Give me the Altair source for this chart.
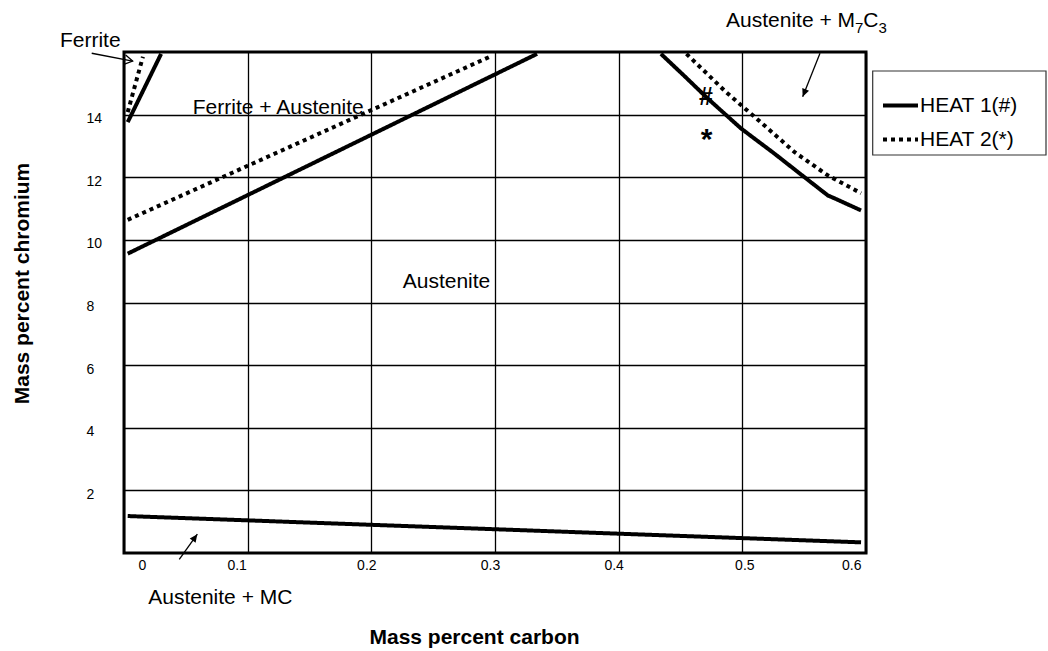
import altair as alt
import pandas as pd

FONT = "Liberation Sans"

# ---------------- data ----------------
series_names = ["HEAT 1(#)", "HEAT 2(*)"]

# HEAT 1 (solid)
h1_ferrite_x = [0.003, 0.030]
h1_ferrite_y = [13.76, 15.94]
h1_fa_x = [0.003, 0.334]
h1_fa_y = [9.56, 15.94]
h1_m7c3_x = [0.4342, 0.4535, 0.4724, 0.4992, 0.5261, 0.5503, 0.5691, 0.5772, 0.5960]
h1_m7c3_y = [15.94, 15.22, 14.50, 13.55, 12.75, 12.00, 11.42, 11.28, 10.94]
h1_mc_x = [0.003, 0.200, 0.596]
h1_mc_y = [1.18, 0.90, 0.34]

# HEAT 2 (dotted)
h2_ferrite_x = [0.003, 0.0153]
h2_ferrite_y = [14.08, 15.85]
h2_fa_x = [0.003, 0.2976]
h2_fa_y = [10.64, 15.88]
h2_m7c3_x = [0.4548, 0.4871, 0.5194, 0.5423, 0.5691, 0.5960]
h2_m7c3_y = [15.94, 14.71, 13.60, 12.80, 12.06, 11.49]

x_tick_values = [0, 0.1, 0.2, 0.3, 0.4, 0.5, 0.6]
y_tick_values = [2, 4, 6, 8, 10, 12, 14]

# region labels (the M7C3 label is split so that 7 and 3 are subscripts)
label_text = ["Ferrite", "Ferrite + Austenite", "Austenite", "Austenite + MC",
              "Austenite + M", "7", "C", "3"]
label_x = [-0.0518, 0.0556, 0.2254, 0.0196, 0.4868, 0.5911, 0.5978, 0.6101]
label_y = [16.16, 14.02, 8.46, -1.63, 16.80, 16.61, 16.80, 16.61]
label_size = [21, 21, 21, 21, 21, 15, 21, 15]

# heat markers
marker_text = ["#", "*"]
marker_x = [0.4706, 0.4712]
marker_y = [14.31, 12.90]
marker_size = [25, 30]

# arrows (tail -> head)
arrow_x1 = [-0.0261, 0.5628, 0.0447]
arrow_y1 = [15.96, 15.96, -0.20]
arrow_x2 = [0.0070, 0.5488, 0.0593]
arrow_y2 = [15.71, 14.57, 0.60]
arrow_angle = [10.6, 111.7, 305.8]
arrow_open = [True, False, False]

# ---------------- tables ----------------
rows = []
def add(series, seg, xs, ys):
    for i, (xv, yv) in enumerate(zip(xs, ys)):
        rows.append({"series": series, "seg": seg, "x": xv, "y": yv, "i": i})

add(series_names[0], "h1a", h1_ferrite_x, h1_ferrite_y)
add(series_names[0], "h1b", h1_fa_x, h1_fa_y)
add(series_names[0], "h1c", h1_m7c3_x, h1_m7c3_y)
add(series_names[0], "h1d", h1_mc_x, h1_mc_y)
add(series_names[1], "h2a", h2_ferrite_x, h2_ferrite_y)
add(series_names[1], "h2b", h2_fa_x, h2_fa_y)
add(series_names[1], "h2c", h2_m7c3_x, h2_m7c3_y)
lines_df = pd.DataFrame(rows)

labels_df = pd.DataFrame({"x": label_x, "y": label_y, "t": label_text, "s": label_size})
markers_df = pd.DataFrame({"x": marker_x, "y": marker_y, "t": marker_text, "s": marker_size})
arrows_df = pd.DataFrame({"x": arrow_x1, "y": arrow_y1, "x2": arrow_x2, "y2": arrow_y2,
                          "angle": arrow_angle, "open": arrow_open})

# ---------------- scales / axes ----------------
x_scale = alt.Scale(domain=[0, 0.6], nice=False, zero=False)
y_scale = alt.Scale(domain=[0, 16], nice=False, zero=False)

x_axis = alt.Axis(
    values=x_tick_values, format=".1~f", grid=True, gridColor="black", gridWidth=1.3, gridOpacity=1,
    domain=False, ticks=False, labelFont=FONT, labelFontSize=14, labelColor="black", labelPadding=5,
    labelFlush=True,
    labelOffset={"condition": [
        {"test": "datum.value < 0.05", "value": 14},
        {"test": "datum.value > 0.05 && datum.value < 0.15", "value": -11},
        {"test": "datum.value > 0.45 && datum.value < 0.55", "value": 2},
    ], "value": -5},
    titleFont=FONT, titleFontSize=21, titleFontWeight="bold", titleColor="black",
    titleX=350, titleY=90, titleBaseline="alphabetic",
)
y_axis = alt.Axis(
    values=y_tick_values, grid=True, gridColor="black", gridWidth=1.3, gridOpacity=1,
    domain=False, ticks=False, labelFont=FONT, labelFontSize=14, labelColor="black",
    labelAlign="left", labelPadding=38, labelOffset=4,
    titleFont=FONT, titleFontSize=21, titleFontWeight="bold", titleColor="black",
    titleX=-96, titleY=231, titleAngle=270, titleBaseline="alphabetic", titleAlign="center",
)

def X(field):
    return alt.X(field, type="quantitative", scale=x_scale, axis=x_axis, title="Mass percent carbon")

def Y(field):
    return alt.Y(field, type="quantitative", scale=y_scale, axis=y_axis, title="Mass percent chromium")

# legend frame (drawn behind the legend entries)
legend_frame = alt.Chart(pd.DataFrame({"k": [0]})).mark_rect(
    fill="white", stroke="#333333", strokeWidth=1.2,
).encode(x=alt.value(748.7), x2=alt.value(922), y=alt.value(19), y2=alt.value(103))

lines = alt.Chart(lines_df).mark_line(color="black", strokeWidth=4, strokeCap="butt", clip=False).encode(
    x=X("x"),
    y=Y("y"),
    strokeDash=alt.StrokeDash(
        "series:N",
        scale=alt.Scale(domain=series_names, range=[[1, 0], [4, 4]]),
        legend=alt.Legend(
            title=None,
            orient="none", legendX=748, legendY=32, direction="vertical",
            symbolType="stroke", symbolSize=1225, symbolStrokeWidth=4, symbolStrokeColor="black",
            symbolOffset=7,
            labelFont=FONT, labelFontSize=21, labelColor="black", labelOffset=0,
            padding=2, rowPadding=4,
        ),
    ),
    detail="seg:N",
    order="i:Q",
)

shafts = alt.Chart(arrows_df).mark_rule(color="black", strokeWidth=1.3).encode(
    x=X("x"), y=Y("y"), x2="x2", y2="y2",
)

heads_filled = alt.Chart(arrows_df).transform_filter("!datum.open").mark_point(
    shape="M0,0L-1,-0.45L-1,0.45Z", filled=True, color="black", size=256, opacity=1,
).encode(x=X("x2"), y=Y("y2"), angle=alt.Angle("angle:Q", scale=None))

heads_open = alt.Chart(arrows_df).transform_filter("datum.open").mark_point(
    shape="M-1,-0.6L0,0L-1,0.6", filled=False, color="black", strokeWidth=1.3, size=256, opacity=1,
).encode(x=X("x2"), y=Y("y2"), angle=alt.Angle("angle:Q", scale=None))

labels = alt.Chart(labels_df).mark_text(
    font=FONT, color="black", align="left", baseline="alphabetic",
).encode(x=X("x"), y=Y("y"), text="t:N", size=alt.Size("s:Q", scale=None, legend=None))

markers = alt.Chart(markers_df).mark_text(
    font=FONT, fontWeight="bold", color="black", align="center", baseline="alphabetic",
).encode(x=X("x"), y=Y("y"), text="t:N", size=alt.Size("s:Q", scale=None, legend=None))

chart = alt.layer(legend_frame, lines, shafts, heads_filled, heads_open, labels, markers).properties(
    width=742, height=501,
    autosize=alt.AutoSizeParams(type="none"),
    padding={"left": 124, "top": 52, "right": 182, "bottom": 98},
    background="white",
).configure_view(stroke="black", strokeWidth=3)

chart.save("out.html", embed_options={"renderer": "svg", "actions": False})
